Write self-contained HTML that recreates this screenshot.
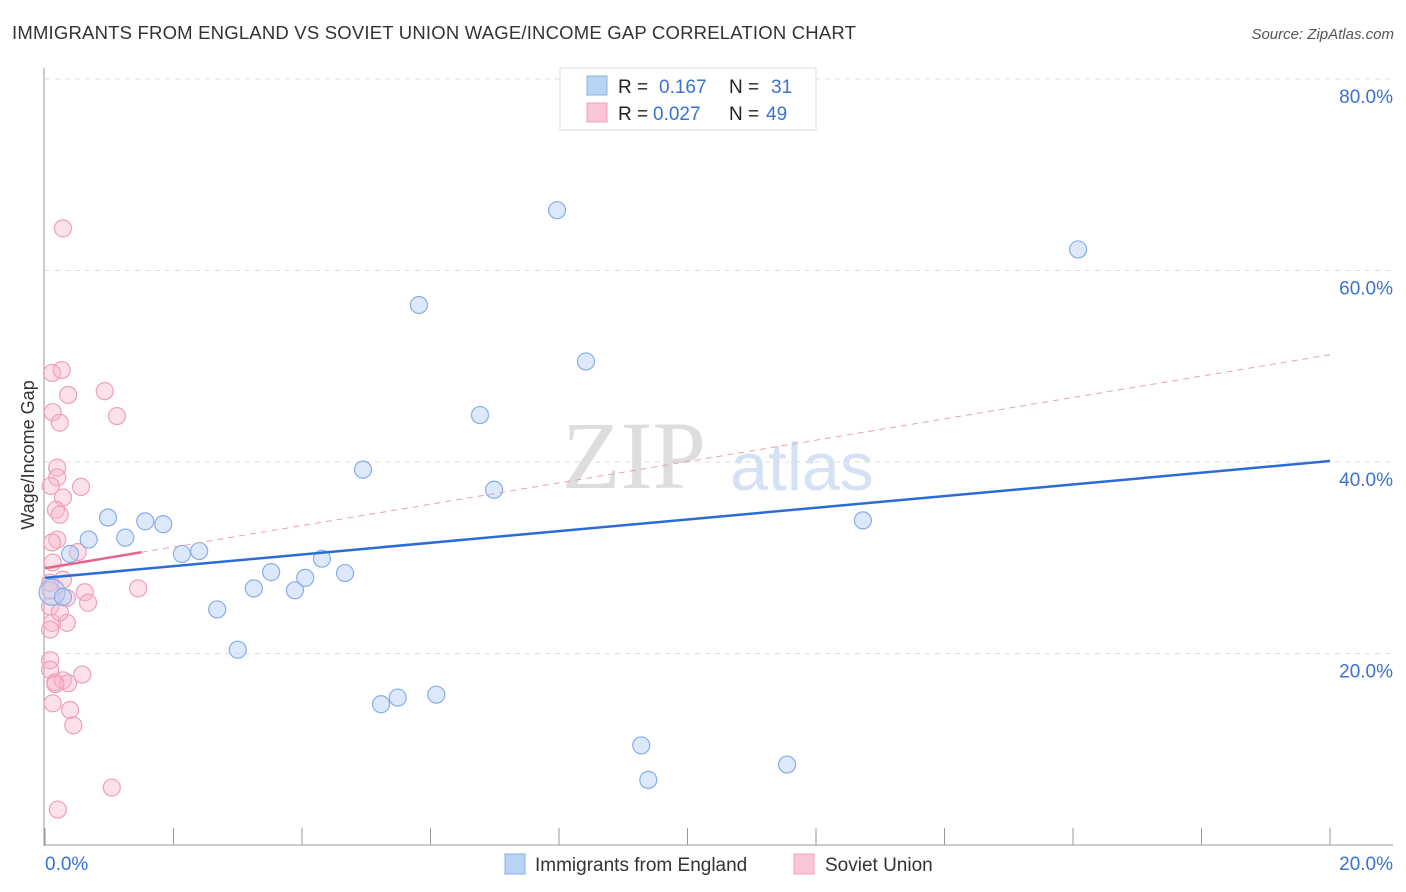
<!DOCTYPE html>
<html><head><meta charset="utf-8"><style>
body{margin:0;background:#fff;font-family:"Liberation Sans",sans-serif;}
#wrap{position:relative;width:1406px;height:892px;overflow:hidden;}
svg{position:absolute;left:0;top:0;}
</style></head><body><div id="wrap">
<svg id="svg" width="1406" height="892">
<text x="12" y="39" font-size="18.5" letter-spacing="0.2" fill="#333">IMMIGRANTS FROM ENGLAND VS SOVIET UNION WAGE/INCOME GAP CORRELATION CHART</text>
<text x="1394" y="39" font-size="15" fill="#555" font-style="italic" text-anchor="end">Source: ZipAtlas.com</text>
<text x="634" y="488" font-size="96" fill="#ddd" font-family="Liberation Serif,serif" text-anchor="middle">ZIP</text>
<text x="802" y="490" font-size="68" fill="#d5e2f5" text-anchor="middle">atlas</text>
<text transform="translate(34,455) rotate(-90)" font-size="18" fill="#333" text-anchor="middle">Wage/Income Gap</text>
<g id="grid"></g><g id="pts"></g><g id="lines"></g>
<g>
<rect x="560" y="68" width="256" height="62" fill="#fff" stroke="#ddd"/>
<rect x="587" y="76" width="20" height="19" fill="#b9d3f5" stroke="#8ab0e6"/>
<rect x="587" y="103" width="20" height="19" fill="#f9c6d6" stroke="#f0a0bb"/>
<text x="618" y="93" font-size="19" fill="#222">R = </text><text x="659" y="93" font-size="19" fill="#3a72d0">0.167</text>
<text x="729" y="93" font-size="19" fill="#222">N = </text><text x="771" y="93" font-size="19" fill="#3a72d0">31</text>
<text x="618" y="120" font-size="19" fill="#222">R = </text><text x="653" y="120" font-size="19" fill="#3a72d0">0.027</text>
<text x="729" y="120" font-size="19" fill="#222">N = </text><text x="766" y="120" font-size="19" fill="#3a72d0">49</text>
</g>
<g>
<rect x="505" y="854" width="20" height="20" fill="#b9d3f5" stroke="#8ab0e6"/>
<text x="535" y="871" font-size="19" fill="#333">Immigrants from England</text>
<rect x="794" y="854" width="20" height="20" fill="#f9c6d6" stroke="#f0a0bb"/>
<text x="825" y="871" font-size="19" fill="#333">Soviet Union</text>
</g>
</svg></div>
<script>
const yTicks=[20,40,60,80];
const xTickLabels=["0.0%","20.0%"];
const blueX=[0.11,0.28,0.39,0.68,0.98,1.25,1.56,1.84,2.13,2.40,2.68,3.00,3.25,3.52,3.89,4.05,4.31,4.67,4.95,5.23,5.49,6.09,5.82,6.77,6.99,7.97,8.42,9.28,9.39,11.55,12.73,16.08];
const blueY=[26.4,25.9,30.4,31.9,34.2,32.1,33.8,33.5,30.4,30.7,24.6,20.4,26.8,28.5,26.6,27.9,29.9,28.4,39.2,14.7,15.4,15.7,56.4,44.9,37.1,66.3,50.5,10.4,6.8,8.4,33.9,62.2];
const pinkX=[0.11,0.26,0.36,0.93,1.12,0.12,0.23,0.19,0.19,0.09,0.56,0.28,0.17,0.23,0.19,0.11,0.51,0.12,0.08,0.28,1.45,0.62,0.67,0.34,0.34,0.11,0.08,0.08,0.23,0.08,0.08,0.16,0.28,0.36,0.58,0.12,0.39,0.44,1.04,0.20,0.28,0.08,0.16];
const pinkY=[49.3,49.6,47.0,47.4,44.8,45.2,44.1,39.4,38.4,37.5,37.4,36.3,35.0,34.5,31.9,31.6,30.6,29.5,27.4,27.7,26.8,26.4,25.3,25.8,23.2,23.2,22.5,24.9,24.3,19.3,18.3,17.0,17.2,16.9,17.8,14.8,14.1,12.5,6.0,3.7,64.4,26.6,16.8];
const blueTrend=[27.9,40.1];
const pinkTrend=[28.9,51.2];
const pinkSolidEnd=1.5;
const NS="http://www.w3.org/2000/svg";
const X=v=>45+v/20*1285, Y=v=>845-v/20*191.5;
function mk(t,a,p){const e=document.createElementNS(NS,t);for(const k in a)e.setAttribute(k,a[k]);p.appendChild(e);return e;}
const g=document.getElementById('grid');
for(const t of yTicks){
 const l=mk('line',{x1:45,x2:1393,y1:Y(t),y2:Y(t),stroke:'#ddd','stroke-dasharray':'5,5'},g);
 
 
 const tx=mk('text',{x:1393,y:Y(t)+24,'font-size':19,fill:'#3a72d0','text-anchor':'end'},g);
 tx.textContent=t.toFixed(1)+'%';
 
 
}
const ax=mk('line',{x1:44,x2:44,y1:68,y2:846,stroke:'#999'},g);


const bx=mk('line',{x1:44,x2:1393,y1:845,y2:845,stroke:'#999'},g);


for(let i=0;i<=10;i++){
 const tk=mk('line',{x1:X(i*2),x2:X(i*2),y1:828,y2:845,stroke:'#999'},g);
 
 
}
xTickLabels.forEach((s,i)=>{
 const t=mk('text',{x:i?1393:45,y:870,'font-size':19,fill:'#3a72d0','text-anchor':i?'end':'start'},g);
 t.textContent=s;
 
 
});
const p=document.getElementById('pts');
pinkX.forEach((x,i)=>{
 const c=mk('circle',{cx:X(x),cy:Y(pinkY[i]),r:8.5,fill:'rgba(248,180,200,0.4)',stroke:'#eea0b8','stroke-width':1.2},p);
 
 
});
blueX.forEach((x,i)=>{
 const c=mk('circle',{cx:X(x),cy:Y(blueY[i]),r:i==0?13:8.5,fill:'rgba(180,205,245,0.45)',stroke:'#88aee6','stroke-width':1.2},p);
 
 
});
const L=document.getElementById('lines');
const pv=x=>pinkTrend[0]+(pinkTrend[1]-pinkTrend[0])*x/20;
const pd=mk('line',{x1:X(pinkSolidEnd),y1:Y(pv(pinkSolidEnd)),x2:X(20),y2:Y(pinkTrend[1]),stroke:'#e8a0b8','stroke-dasharray':'6,5','stroke-width':1},L);


const ps=mk('line',{x1:X(0),y1:Y(pinkTrend[0]),x2:X(pinkSolidEnd),y2:Y(pv(pinkSolidEnd)),stroke:'#e8628e','stroke-width':2.5},L);


const bl=mk('line',{x1:X(0),y1:Y(blueTrend[0]),x2:X(20),y2:Y(blueTrend[1]),stroke:'#2a6dd6','stroke-width':2.5},L);


</script></body></html>
